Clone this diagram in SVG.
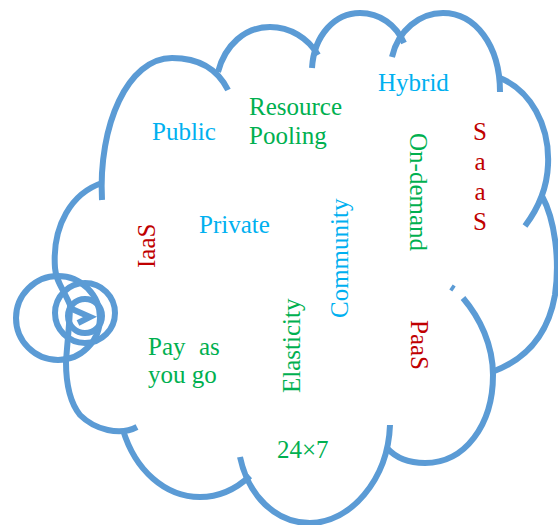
<svg xmlns="http://www.w3.org/2000/svg" width="558" height="525" viewBox="0 0 558 525">
  <style>
    .lobe { fill: none; stroke: #5B9BD5; stroke-width: 6; stroke-linecap: butt; }
    .bubble { fill: none; stroke: #5B9BD5; stroke-width: 6; }
    text { font-family: "Liberation Serif", "Times New Roman", serif; font-size: 25px; }
    .blue { fill: #00B0F0; }
    .green { fill: #00B050; }
    .red { fill: #C00000; }
  </style>
  <rect width="558" height="525" fill="#ffffff"/>

  <!-- cloud outline, one arc per lobe -->
  <g id="cloud">
    <path class="lobe" d="M102,200 C98,125 128,58 172,58 C200,58 218,70 228,90"/>
    <path class="lobe" d="M218,72 C225,45 245,27 270,27 C290,27 308,38 318,55"/>
    <path class="lobe" d="M312,68 C314,35 335,13 360,13 C380,13 396,25 404,43"/>
    <path class="lobe" d="M392,57 C398,30 420,13 443,13 C475,13 500,45 500,92"/>
    <path class="lobe" d="M500,78 C530,90 550,125 548,165 C547,190 537,210 525,226"/>
    <path class="lobe" d="M542,196 C555,220 560,260 555,295 C548,335 525,360 492,372"/>
    <path class="lobe" d="M463,298 C480,318 493,345 493,375 C493,425 465,463 425,463 C408,463 395,457 387,448"/>
    <path class="lobe" d="M390,425 C388,480 350,523 310,523 C275,523 248,495 240,457"/>
    <path class="lobe" d="M250,476 C235,490 218,497 200,497 C165,497 135,470 123,430"/>
    <path class="lobe" d="M137,427 C120,436 95,430 80,415 C68,400 66,380 66,362 C67,345 70,320 70,305 C64,290 56,282 55,268 C52,225 72,193 102,183"/>
    <path class="lobe" d="M451,287 L454,289" stroke-width="2"/>
  </g>

  <!-- callout bubbles on the left -->
  <g id="bubbles">
    <circle class="bubble" cx="58" cy="318" r="42"/>
    <circle class="bubble" cx="85" cy="313" r="30"/>
    <circle class="bubble" cx="85" cy="316" r="17"/>
    <path class="lobe" d="M72,309 L90,317 L78,323" stroke-width="5"/>
  </g>

  <!-- terms -->
  <g id="public"><text class="blue" x="152" y="140">Public</text></g>
  <g id="resource-pooling">
    <text class="green" x="249" y="115">Resource</text>
    <text class="green" x="249" y="144">Pooling</text>
  </g>
  <g id="hybrid"><text class="blue" x="378" y="91">Hybrid</text></g>
  <g id="on-demand"><text class="green" transform="translate(410,133) rotate(90)">On-demand</text></g>
  <g id="saas">
    <text class="red" x="480" y="140" text-anchor="middle">S</text>
    <text class="red" x="480" y="170" text-anchor="middle">a</text>
    <text class="red" x="480" y="200" text-anchor="middle">a</text>
    <text class="red" x="480" y="230" text-anchor="middle">S</text>
  </g>
  <g id="private"><text class="blue" x="199" y="233">Private</text></g>
  <g id="iaas"><text class="red" transform="translate(155,268) rotate(-90)">IaaS</text></g>
  <g id="community"><text class="blue" transform="translate(348,318) rotate(-90)">Community</text></g>
  <g id="elasticity"><text class="green" transform="translate(300,393) rotate(-90)">Elasticity</text></g>
  <g id="paas"><text class="red" transform="translate(411,320) rotate(90)">PaaS</text></g>
  <g id="pay-as-you-go">
    <text class="green" y="355"><tspan x="148">Pay</tspan><tspan x="199">as</tspan></text>
    <text class="green" x="148" y="383">you go</text>
  </g>
  <g id="always-on"><text class="green" x="277" y="458">24×7</text></g>
</svg>
